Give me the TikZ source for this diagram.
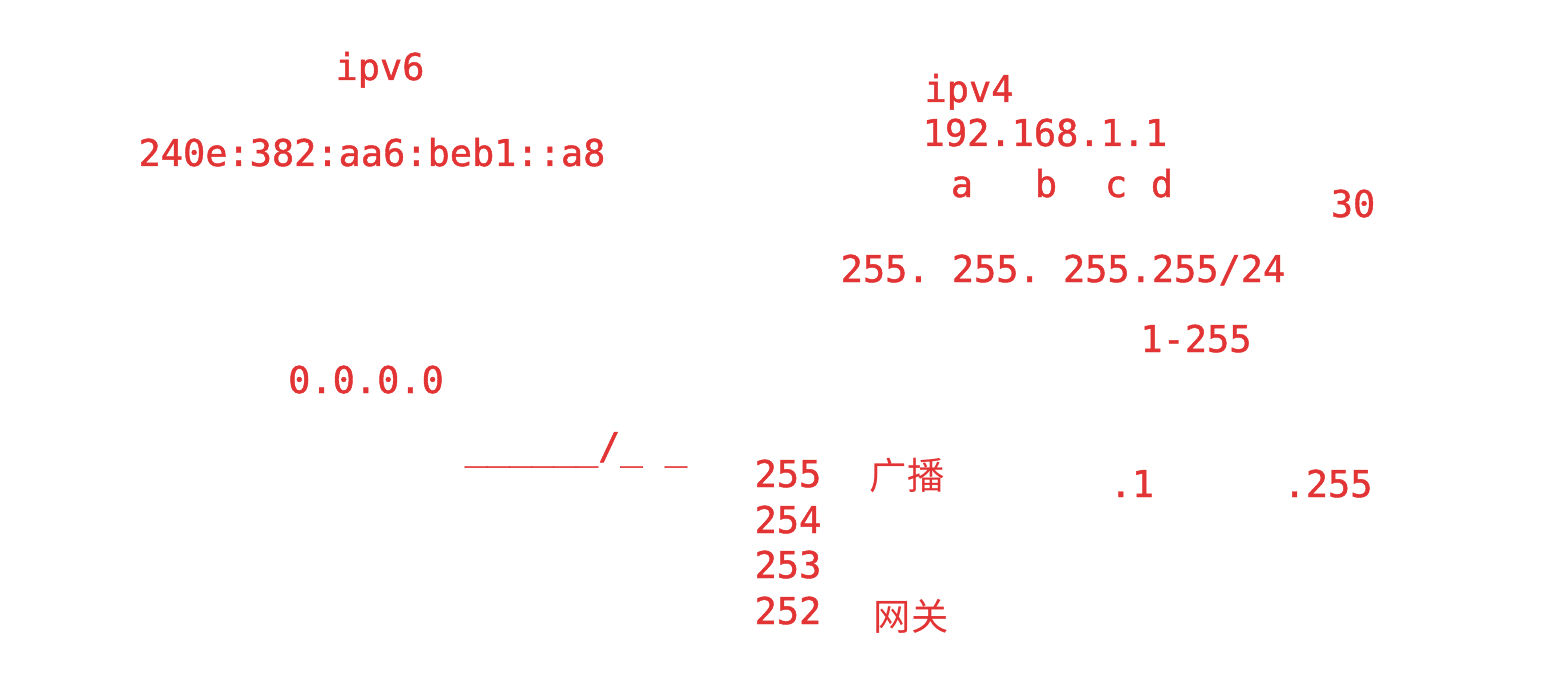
\documentclass[tikz,border=0pt]{standalone}
\usepackage{fontspec}
\setmonofont{DejaVu Sans Mono}[FakeBold=1.2]
\newfontfamily\cjk{Noto Sans CJK SC}
\usepackage{xcolor}
\usepackage{tikz}
\usetikzlibrary{positioning}
\definecolor{notered}{RGB}{226,52,52}

\begin{document}
\begin{tikzpicture}[
    x=0.01cm, y=-0.01cm,
    note/.style={anchor=base, inner sep=0pt, text=notered, font=\ttfamily\fontsize{10.5pt}{12pt}\selectfont},
    cnote/.style={note, font=\cjk\fontsize{10.6pt}{12pt}\selectfont}
]
\useasboundingbox (0,0) rectangle (1543,688);

% ipv6 side
\node[note] (v6) at (380,80) {ipv6};
\node[note] (v6addr) at (372,166) {240e:382:aa6:beb1::a8};
\node[note] (zero) at (366,393) {0.0.0.0};
\node[note] (slash) at (576,459) {\_\_\_\_\_\_/\_ \_};

% ipv4 side
\node[note] (v4) at (969,102) {ipv4};
\node[note] (v4addr) at (1045,146) {192.168.1.1};
\node[note] (pa) at (962,197) {a};
\node[note] (pb) at (1046,197) {b};
\node[note] (pc) at (1116,197) {c};
\node[note] (pd) at (1162,197) {d};
\node[note] (thirty) at (1353,217) {30};
\node[note] (mask) at (1063,282) {255. 255. 255.255/24};
\node[note] (range) at (1196,352) {1-255};

% host list
\node[note] (h255) at (788,487) {255};
\node[note] (h254) at (788,533) {254};
\node[note] (h253) at (788,578) {253};
\node[note] (h252) at (788,624) {252};
\node[cnote] (bcast) at (907,489) {广播};
\node[cnote] (gw) at (911,630) {网关};
\node[note] (first) at (1132,497) {.1};
\node[note] (last) at (1328,497) {.255};
\end{tikzpicture}
\end{document}
